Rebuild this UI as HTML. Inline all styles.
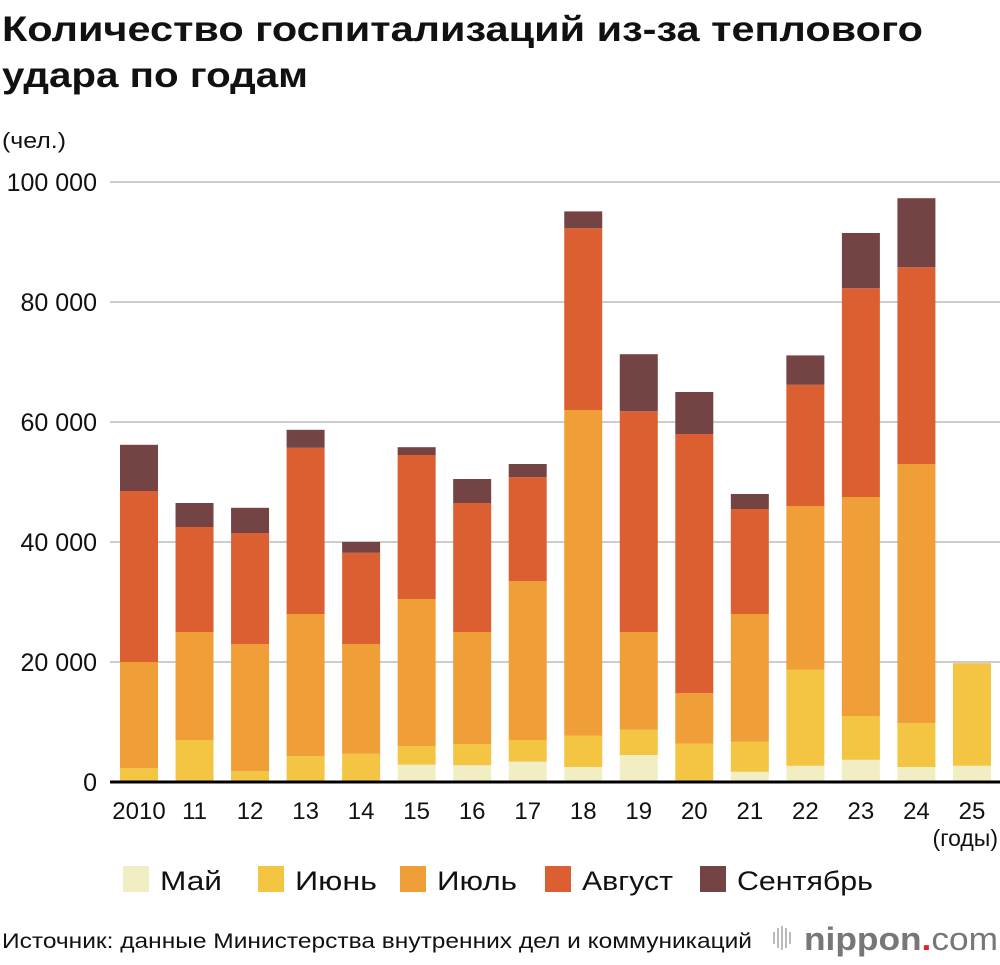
<!DOCTYPE html>
<html><head><meta charset="utf-8">
<style>
body{margin:0;background:#fff;width:1000px;height:960px;overflow:hidden;font-family:"Liberation Sans","DejaVu Sans",sans-serif}
svg text{font-family:"Liberation Sans","DejaVu Sans",sans-serif}
</style></head>
<body>
<svg id="chart" width="1000" height="960">
<text x="2" y="41" font-size="35" font-weight="bold" fill="#111" textLength="921" lengthAdjust="spacingAndGlyphs">Количество госпитализаций из-за теплового</text>
<text x="2" y="87" font-size="35" font-weight="bold" fill="#111" textLength="306" lengthAdjust="spacingAndGlyphs">удара по годам</text>
<text x="2" y="148" font-size="22" fill="#111" textLength="64" lengthAdjust="spacingAndGlyphs">(чел.)</text>
<g id="grid"></g><g id="bars"></g><g id="xlabels"></g>
<line x1="110" x2="1000" y1="782" y2="782" stroke="#000" stroke-width="3"/>
<text x="998" y="846" font-size="23" text-anchor="end" fill="#111">(годы)</text>
<g id="legend"></g>
<text x="2" y="948" font-size="21" fill="#111" textLength="750" lengthAdjust="spacingAndGlyphs">Источник: данные Министерства внутренних дел и коммуникаций</text>
<g fill="#bbb">
<rect x="773" y="932" width="2" height="12"/><rect x="777" y="928" width="2" height="20"/><rect x="781" y="926" width="2" height="24"/><rect x="785" y="928" width="2" height="20"/><rect x="789" y="932" width="2" height="12"/>
</g>
<text x="804" y="950" font-size="32" font-weight="bold" fill="#777" textLength="194" lengthAdjust="spacingAndGlyphs">nippon<tspan fill="#e8202a">.</tspan><tspan font-weight="normal">com</tspan></text>
</svg>
<script>
const years=["2010","11","12","13","14","15","16","17","18","19","20","21","22","23","24","25"];
const seriesNames=["Май","Июнь","Июль","Август","Сентябрь"];
const may=[0,0,0,0,0,2900,2800,3400,2500,4500,0,1700,2700,3700,2500,2700];
const june=[2300,7000,1800,4300,4700,3100,3500,3600,5200,4200,6400,5000,16000,7300,7300,17100];
const july=[17700,18000,21200,23700,18300,24500,18700,26500,54300,16300,8400,21300,27300,36500,43200,0];
const august=[28500,17500,18500,27700,15200,24000,21500,17300,30300,36800,43200,17500,20200,34800,32800,0];
const september=[7700,4000,4200,3000,1800,1300,4000,2200,2800,9500,7000,2500,4900,9200,11500,0];
const yTicks=[0,20000,40000,60000,80000,100000];
const yTickLabels=["0","20 000","40 000","60 000","80 000","100 000"];
const colors=["#f2eec4","#f4c542","#f09e38","#db5f31","#744343"];
const NS="http://www.w3.org/2000/svg";
const y=v=>782-v*0.006;
const xc=i=>139+i*55.53;
const bw=38;
function mk(t,a,p){const e=document.createElementNS(NS,t);for(const k in a)e.setAttribute(k,a[k]);p.appendChild(e);return e;}
const grid=document.getElementById('grid');
yTicks.forEach((v,i)=>{
  if(v>0){const l=mk('line',{x1:110,x2:1000,y1:y(v),y2:y(v),stroke:'#ccc','stroke-width':2},grid);
  
  }
  const t=mk('text',{x:97,y:y(v)+9,'font-size':25,'text-anchor':'end',fill:'#111'},grid);
  t.textContent=yTickLabels[i];
  
  
});
const series=[may,june,july,august,september];
const bars=document.getElementById('bars');
years.forEach((yr,i)=>{
  let cum=0;
  series.forEach((s,k)=>{
    const v=s[i]; if(v<=0)return;
    const r=mk('rect',{x:xc(i)-bw/2,y:y(cum+v),width:bw,height:v*0.006,fill:colors[k]},bars);
    
    
    cum+=v;
  });
  const t=mk('text',{x:xc(i),y:819,'font-size':24,'text-anchor':'middle',fill:'#111'},document.getElementById('xlabels'));
  t.textContent=yr;
  
  
});
const lg=document.getElementById('legend');
const lx=[123,258,400,545,700];
const lw=[62,82,80,91,136];
seriesNames.forEach((n,k)=>{
  const r=mk('rect',{x:lx[k],y:866,width:26,height:26,fill:colors[k]},lg);
  
  
  const t=mk('text',{x:lx[k]+37,y:890,'font-size':27,fill:'#111',textLength:lw[k],lengthAdjust:'spacingAndGlyphs'},lg);
  t.textContent=n;
  
  
});
</script>
</body></html>
